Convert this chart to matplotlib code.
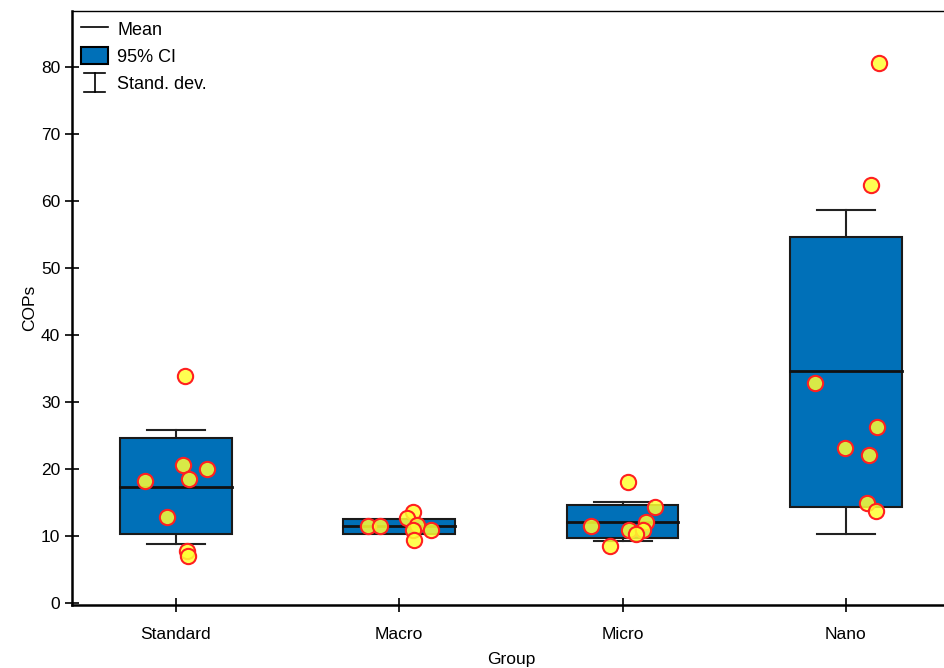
import numpy as np
import matplotlib.pyplot as plt
from matplotlib.lines import Line2D
from matplotlib.patches import Patch
from matplotlib.legend_handler import HandlerBase

plt.rcParams['font.family'] = ['Liberation Sans', 'DejaVu Sans']

# datos
grupos = ['Standard', 'Macro', 'Micro', 'Nano']
medias = [17.4, 11.5, 12.1, 34.6]
ic_inf = [10.3, 10.4, 9.7, 14.3]
ic_sup = [24.6, 12.5, 14.6, 54.6]
de_inf = [8.8, 10.6, 9.3, 10.3]
de_sup = [25.8, 12.4, 15.1, 58.7]

standard_vals = [33.9, 20.6, 20.1, 18.5, 18.2, 12.8, 7.8, 7.0]
standard_jit = [0.04, 0.03, 0.14, 0.06, -0.14, -0.04, 0.05, 0.055]
macro_vals = [11.5, 11.5, 13.6, 12.7, 11.6, 10.9, 9.4, 10.9]
macro_jit = [-0.14, -0.085, 0.063, 0.036, 0.08, 0.06, 0.068, 0.144]
micro_vals = [18.1, 14.3, 12.1, 11.5, 11.0, 10.9, 10.4, 8.5]
micro_jit = [0.023, 0.144, 0.104, -0.14, 0.03, 0.09, 0.06, -0.054]
nano_vals = [80.7, 62.5, 32.8, 26.3, 23.1, 22.1, 14.9, 13.7]
nano_jit = [0.149, 0.113, -0.14, 0.14, -0.005, 0.104, 0.095, 0.135]

puntos = [standard_vals, macro_vals, micro_vals, nano_vals]
jitter = [standard_jit, macro_jit, micro_jit, nano_jit]

azul = '#0070b8'
ancho = 0.5
ancho_cap = 0.26


class DE:
    pass


class HandlerDE(HandlerBase):
    # simbolo en forma de I para la desviacion estandar
    def create_artists(self, legend, orig_handle, xdescent, ydescent,
                       width, height, fontsize, trans):
        cx = width / 2 - xdescent
        h = height * 1.1
        y0 = -ydescent + height / 2 - h / 2
        y1 = y0 + h
        w = width * 0.75
        lines = [Line2D([cx, cx], [y0, y1], color='black', lw=1.2),
                 Line2D([cx - w / 2, cx + w / 2], [y0, y0], color='black', lw=1.2),
                 Line2D([cx - w / 2, cx + w / 2], [y1, y1], color='black', lw=1.2)]
        for l in lines:
            l.set_transform(trans)
        return lines


fig = plt.figure(figsize=(9.45, 6.68), dpi=100)
ax = fig.add_axes([0.0762, 0.094, 0.93, 0.8895])

x = np.arange(len(grupos))
for i in range(len(grupos)):
    # desviacion estandar
    ax.plot([x[i], x[i]], [de_inf[i], de_sup[i]], color='#222222', lw=1.5, zorder=1)
    ax.plot([x[i] - ancho_cap / 2, x[i] + ancho_cap / 2], [de_inf[i], de_inf[i]], color='#222222', lw=1.5, zorder=1)
    ax.plot([x[i] - ancho_cap / 2, x[i] + ancho_cap / 2], [de_sup[i], de_sup[i]], color='#222222', lw=1.5, zorder=1)
    # intervalo de confianza
    ax.bar(x[i], ic_sup[i] - ic_inf[i], bottom=ic_inf[i], width=ancho,
           color=azul, edgecolor='#1a1a1a', linewidth=1.5, zorder=2)
    # media
    ax.plot([x[i] - ancho / 2, x[i] + ancho / 2], [medias[i], medias[i]], color='#111111', lw=2, zorder=3)
    # puntos
    ax.plot(x[i] + np.array(jitter[i]), puntos[i], 'o', ms=11,
            markerfacecolor=(1, 1, 0.2, 0.85), markeredgecolor='#ff2020',
            markeredgewidth=1.5, zorder=4)

ax.set_xlim(-0.465, 3.47)
ax.set_ylim(-0.3, 88.4)
ax.set_xticks(x)
ax.set_xticklabels(grupos)
ax.set_yticks(np.arange(0, 81, 10))
ax.tick_params(direction='inout', length=10, width=1.2, labelsize=12.5)
ax.tick_params(axis='x', pad=11)
ax.set_xlabel('Group', fontsize=12.5, labelpad=7)
ax.set_ylabel('COPs', fontsize=12.5, labelpad=3)
for s in ['left', 'bottom']:
    ax.spines[s].set_linewidth(1.8)
for s in ['top', 'right']:
    ax.spines[s].set_linewidth(1.0)

h_media = Line2D([], [], color='black', lw=1.2)
h_ic = Patch(facecolor=azul, edgecolor='black', linewidth=1.5)
ax.legend([h_media, h_ic, DE()], ['Mean', '95% CI', 'Stand. dev.'], loc='upper left',
          frameon=False, fontsize=13, handlelength=1.5, handleheight=1.1,
          handletextpad=0.5, labelspacing=0.45, borderaxespad=0.1,
          handler_map={DE: HandlerDE()})

fig.savefig('out.png', dpi=100)
